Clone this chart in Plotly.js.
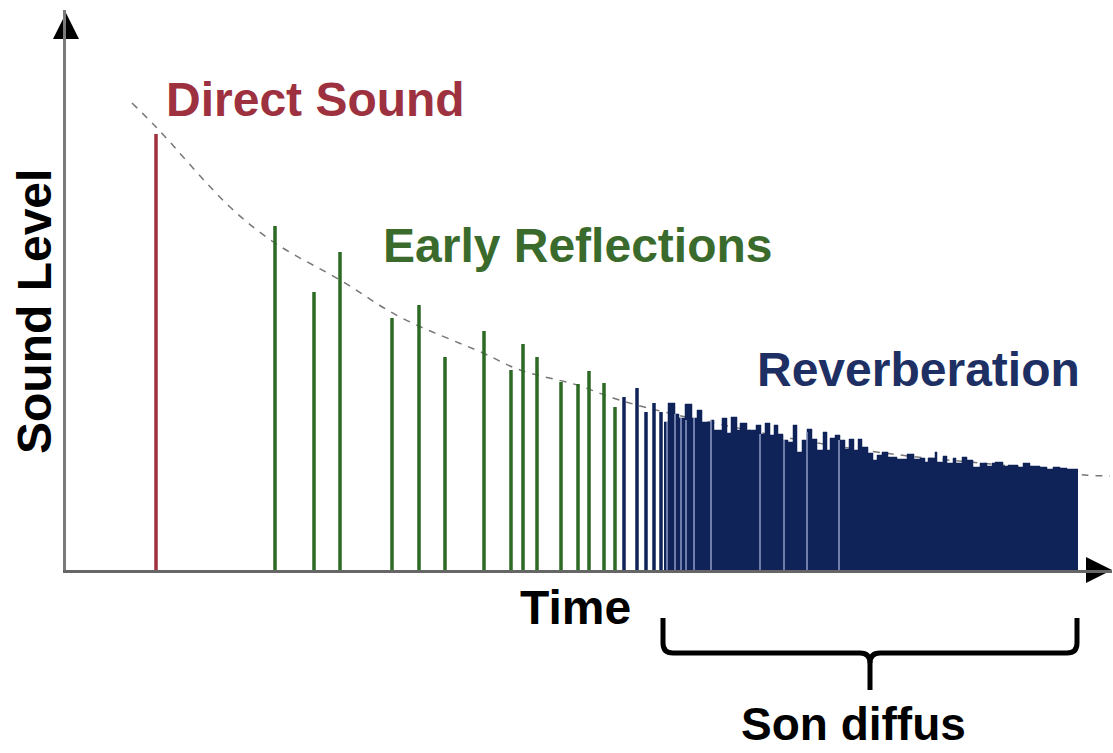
<!DOCTYPE html>
<html>
<head>
<meta charset="utf-8">
<script src="https://cdn.plot.ly/plotly-3.0.1.min.js"></script>
<style>html,body{margin:0;padding:0;background:#fff}#chart{width:1113px;height:753px}</style>
</head>
<body>
<div id="chart"></div>
<script>
// ---- data (time units, level units) ----
const directTime = [90];
const directLevel = [436];

const earlyTime  = [209, 248, 274, 326, 353, 379, 418, 445, 457, 471, 495, 512, 523, 538, 549];
const earlyLevel = [344, 278, 318, 252, 265, 213, 239, 200, 226, 213, 188, 186, 199, 187, 163];

const lateTime  = [558, 571, 580, 588, 595];
const lateLevel = [173, 182, 158, 167, 158];

const reverbTime = [598, 602, 609, 613, 619, 626, 631, 636, 645, 648, 656, 661, 665, 671, 674, 681, 690, 695, 699, 704,
  708, 712, 717, 722, 727, 731, 736, 741, 746, 751, 757, 761, 764, 769, 774, 779, 783, 788, 792, 796,
  802, 807, 811, 816, 822, 831, 841, 848, 854, 859, 862, 869, 871, 877, 881, 887, 890, 896, 901, 907,
  914, 921, 926, 929, 937, 942, 952, 957, 964, 974, 981, 987, 994, 1001, 1012];
const reverbLevel = [148, 167, 156, 152, 166, 152, 160, 148, 150, 140, 152, 137, 153, 140, 147, 140, 145, 136, 147, 135,
  145, 136, 130, 128, 145, 118, 130, 141, 131, 120, 138, 120, 132, 135, 130, 121, 131, 120, 131, 123,
  117, 110, 115, 118, 113, 111, 116, 111, 112, 108, 112, 118, 108, 114, 107, 112, 107, 113, 110, 103,
  107, 104, 107, 108, 104, 105, 103, 107, 104, 103, 101, 103, 102, 101, 101];

const gapTime  = [601, 609, 615, 620, 628, 645, 694, 718, 741, 773];
const gapLevel = [148, 156, 152, 150, 152, 150, 136, 130, 138, 130];

const envTime  = [66, 91, 164, 209, 274, 334, 417, 454, 511, 547, 582, 634, 734, 834, 934, 1019, 1044];
const envLevel = [467, 442, 363, 327, 290, 253, 217, 200, 185, 172, 162, 150, 130, 115, 105, 95, 94];

const labels = {direct: 'Direct Sound', early: 'Early Reflections', reverb: 'Reverberation',
  xTitle: 'Time', yTitle: 'Sound Level', diffuse: 'Son diffus'};

// ---- helpers ----
const W = 1113, H = 753, ML = 66, MR = 1, MT = 10, MB = 183;
const PW = W - ML - MR, PH = H - MT - MB;
function px(x) { return (x - ML) / PW; }
function py(y) { return (H - MB - y) / PH; }
function stems(xs, ys) {
  const X = [], Y = [];
  xs.forEach((x, i) => { X.push(x, x, null); Y.push(0, ys[i], null); });
  return {x: X, y: Y};
}
const FONT = 'Liberation Sans, Arial, Helvetica, sans-serif';
const red = '#a0303f', green = '#2d6a24', navy = '#0f2358';

const d = stems(directTime, directLevel);
const e = stems(earlyTime, earlyLevel);
const l = stems(lateTime, lateLevel);
const g = stems(gapTime, gapLevel);

const traces = [
  {x: envTime, y: envLevel, mode: 'lines', line: {color: '#777', width: 1.5, dash: '7px,7px', shape: 'spline'}, hoverinfo: 'skip'},
  {x: reverbTime, y: reverbLevel, mode: 'lines', line: {color: navy, width: 0.5, shape: 'hv'}, fill: 'tozeroy', fillcolor: navy, hoverinfo: 'skip'},
  {x: g.x, y: g.y, mode: 'lines', line: {color: '#8f9cc6', width: 1.5}, hoverinfo: 'skip'},
  {x: d.x, y: d.y, mode: 'lines', line: {color: red, width: 3.5}, hoverinfo: 'skip'},
  {x: e.x, y: e.y, mode: 'lines', line: {color: green, width: 3.5}, hoverinfo: 'skip'},
  {x: l.x, y: l.y, mode: 'lines', line: {color: navy, width: 3.5}, hoverinfo: 'skip'},
  {x: [0], y: [557], mode: 'markers', cliponaxis: false, marker: {symbol: 'arrow-up', size: 26, color: '#000'}, hoverinfo: 'skip'},
  {x: [1046], y: [0], mode: 'markers', cliponaxis: false, marker: {symbol: 'arrow-right', size: 26, color: '#000'}, hoverinfo: 'skip'}
];

function path(pts) {
  return pts.map(p => typeof p === 'string' ? p : (px(p[0]) + ',' + py(p[1]))).join(' ');
}
const braceL = path(['M', [663, 618], 'L', [663, 643], 'Q', [663, 653], [673, 653], 'L', [860, 653], 'Q', [870, 653], [870, 663], 'L', [870, 690]]);
const braceR = path(['M', [1077, 618], 'L', [1077, 643], 'Q', [1077, 653], [1067, 653], 'L', [880, 653], 'Q', [870, 653], [870, 663]]);

function ann(text, x, y, color, size, angle) {
  return {text: text, xref: 'paper', yref: 'paper', x: px(x), y: py(y), xanchor: 'center', yanchor: 'middle',
    showarrow: false, textangle: angle || 0, font: {family: FONT, size: size, color: color, weight: 'bold'}};
}

const layout = {
  width: W, height: H, showlegend: false,
  margin: {l: ML, r: MR, t: MT, b: MB, pad: 0},
  paper_bgcolor: '#fff', plot_bgcolor: '#fff',
  xaxis: {range: [0, 1046], showgrid: false, zeroline: false, showticklabels: false, ticks: '',
    showline: true, linecolor: '#666', linewidth: 3, fixedrange: true},
  yaxis: {range: [0, 560], showgrid: false, zeroline: false, showticklabels: false, ticks: '',
    showline: true, linecolor: '#7a7a7a', linewidth: 3, fixedrange: true},
  annotations: [
    ann(labels.direct, 315, 100, '#9d3140', 48),
    ann(labels.early, 577, 246, '#3a6b2c', 48),
    ann(labels.reverb, 918, 370, '#1d2f63', 48),
    ann(labels.xTitle, 575, 607, '#000', 48),
    ann(labels.yTitle, 34, 312, '#000', 48, -90),
    ann(labels.diffuse, 853, 724, '#000', 46)
  ],
  shapes: [
    {type: 'path', xref: 'paper', yref: 'paper', path: braceL, line: {color: '#000', width: 5}},
    {type: 'path', xref: 'paper', yref: 'paper', path: braceR, line: {color: '#000', width: 5}}
  ]
};

Plotly.newPlot('chart', traces, layout, {displayModeBar: false, staticPlot: true});
</script>
</body>
</html>
